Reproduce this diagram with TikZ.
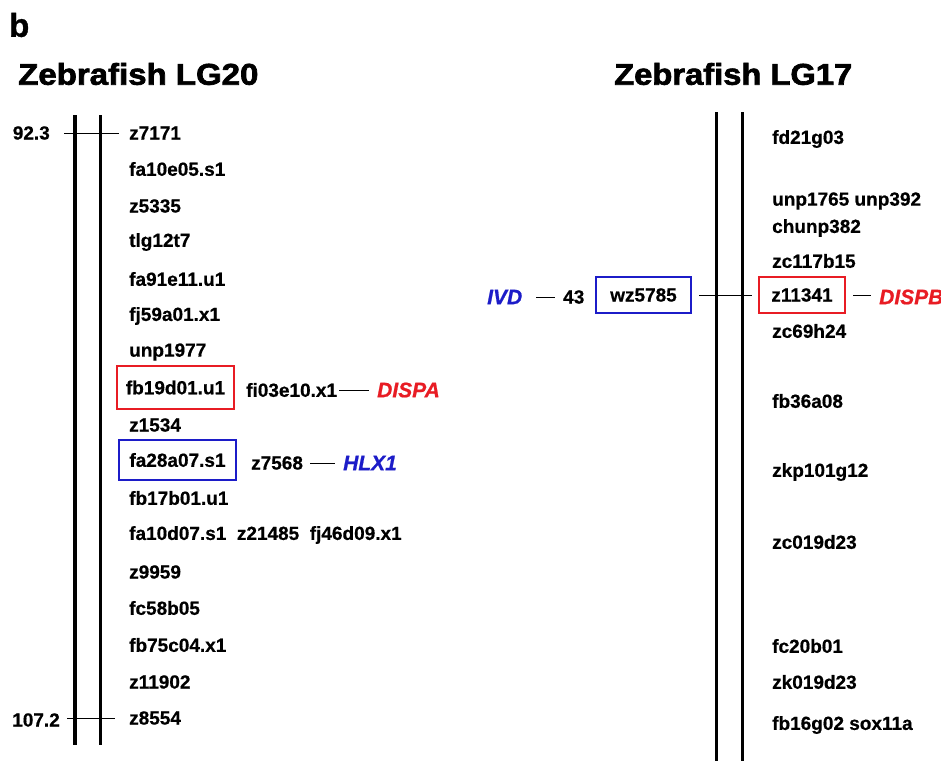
\documentclass[tikz,border=0pt]{standalone}
\usepackage{fontspec}
\setmainfont{Liberation Sans}
\newfontfamily\markerfont[FakeBold=0.6]{Liberation Sans Bold}
\newfontfamily\heavyfont[FakeBold=2.2]{Liberation Sans Bold}
\newfontfamily\letterfont[FakeBold=1]{Liberation Sans Bold}
\newfontfamily\genefont[FakeBold=0.8]{Liberation Sans Bold Italic}
\definecolor{genered}{RGB}{232,28,36}
\definecolor{geneblue}{RGB}{28,28,200}
\tikzset{
  mk/.style={font=\markerfont\fontsize{19}{21}\selectfont, anchor=west, inner sep=0pt},
  num/.style={font=\markerfont\fontsize{19}{21}\selectfont, anchor=east, inner sep=0pt},
  title/.style={font=\heavyfont\fontsize{30}{32}\selectfont, anchor=west, inner sep=0pt},
  gene/.style={font=\genefont\fontsize{21}{23}\selectfont, anchor=west, inner sep=0pt},
  redbox/.style={draw=genered, line width=2pt, font=\markerfont\fontsize{19}{21}\selectfont, inner sep=0pt},
  bluebox/.style={draw=geneblue, line width=2pt, font=\markerfont\fontsize{19}{21}\selectfont, inner sep=0pt},
  chrom/.style={line width=3pt},
  tick/.style={line width=0.9pt},
}
\begin{document}
\begin{tikzpicture}[x=1pt,y=-1pt]
\useasboundingbox (0,0) rectangle (941,761);

% panel letter and titles
\node[font=\letterfont\fontsize{33}{35}\selectfont, anchor=west, inner sep=0pt] (panel) at (9,25) {b};
\node[title] (t20) at (18,74) {\scalebox{1.1}[1]{Zebrafish LG20}};
\node[title] (t17) at (614,74) {\scalebox{1.09}[1]{Zebrafish LG17}};

% ---------- LG20 ----------
\coordinate (a1top) at (75,115);  \coordinate (a1bot) at (75,745);
\coordinate (a2top) at (100,115); \coordinate (a2bot) at (100,745);
\draw[line width=3.6pt] (a1top) -- (a1bot);
\draw[chrom] (a2top) -- (a2bot);

\node[num] (n923) at (50,133) {92.3};
\node[num] (n1072) at (60,720) {107.2};

\node[mk] (z7171)  at (129,133) {z7171};
\node[mk] (fa10e05) at (129,169) {fa10e05.s1};
\node[mk] (z5335)  at (129,206) {z5335};
\node[mk] (tlg12t7) at (129,242) {tlg12t7};
\node[mk] (fa91e11) at (129,279) {fa91e11.u1};
\node[mk] (fj59a01) at (129,316) {fj59a01.x1};
\node[mk] (unp1977) at (129,352) {unp1977};
\node[redbox, minimum width=117pt, minimum height=43pt] (fb19d01) at (175.5,387.5) {fb19d01.u1};
\node[mk] (fi03e10) at (246,390) {fi03e10.x1};
\node[gene, text=genered] (dispa) at (377,390) {DISPA};
\node[mk] (z1534)  at (129,425) {z1534};
\node[bluebox, minimum width=117pt, minimum height=40pt] (fa28a07) at (177.5,460) {fa28a07.s1};
\node[mk] (z7568)  at (251,463) {z7568};
\node[gene, text=geneblue] (hlx1) at (343,463) {HLX1};
\node[mk] (fb17b01) at (129,498) {fb17b01.u1};
\node[mk] (fa10d07) at (129,535) {fa10d07.s1\ \ z21485\ \ fj46d09.x1};
\node[mk] (z9959)  at (129,572) {z9959};
\node[mk] (fc58b05) at (129,608) {fc58b05};
\node[mk] (fb75c04) at (129,645) {fb75c04.x1};
\node[mk] (z11902) at (129,682) {z11902};
\node[mk] (z8554)  at (129,718) {z8554};

\draw[tick] ([xshift=14pt]n923.east) -- ([xshift=-10pt]z7171.west);
\draw[tick] ([xshift=7pt]n1072.east |- z8554.west) -- ([xshift=-14pt]z8554.west);
\draw[tick] ([xshift=2pt]fi03e10.east) -- ([xshift=-8pt]dispa.west);
\draw[tick] ([xshift=7pt]z7568.east) -- ([xshift=-8pt]hlx1.west);

% ---------- LG17 ----------
\coordinate (b1top) at (716,112); \coordinate (b1bot) at (716,761);
\coordinate (b2top) at (742,112); \coordinate (b2bot) at (742,761);
\draw[chrom] (b1top) -- (b1bot);
\draw[chrom] (b2top) -- (b2bot);

\node[mk] (fd21g03) at (772,139) {fd21g03};
\node[mk] (unp1765) at (772,201) {unp1765 unp392};
\node[mk] (chunp382) at (772,228) {chunp382};
\node[mk] (zc117b15) at (772,261) {zc117b15};
\node[redbox, minimum width=86pt, minimum height=36pt] (z11341) at (802,295) {z11341};
\node[gene, text=genered] (dispb) at (879,297) {DISPB};
\node[mk] (zc69h24) at (772,331) {zc69h24};
\node[mk] (fb36a08) at (772,401) {fb36a08};
\node[mk] (zkp101g12) at (772,472) {zkp101g12};
\node[mk] (zc019d23) at (772,542) {zc019d23};
\node[mk] (fc20b01) at (772,646) {fc20b01};
\node[mk] (zk019d23) at (772,682) {zk019d23};
\node[mk] (fb16g02) at (772,725) {fb16g02 sox11a};

\node[bluebox, minimum width=95pt, minimum height=36pt] (wz5785) at (643.5,295) {wz5785};
\node[mk] (n43) at (563,297) {43};
\node[gene, text=geneblue] (ivd) at (487,297) {IVD};

\draw[tick] ([xshift=14pt]ivd.east) -- ([xshift=-8pt]n43.west);
\draw[tick] ([xshift=7pt]wz5785.east) -- ([xshift=-6pt]z11341.west);
\draw[tick] ([xshift=7pt]z11341.east) -- ([xshift=-8pt]z11341.east -| dispb.west);
\end{tikzpicture}
\end{document}
